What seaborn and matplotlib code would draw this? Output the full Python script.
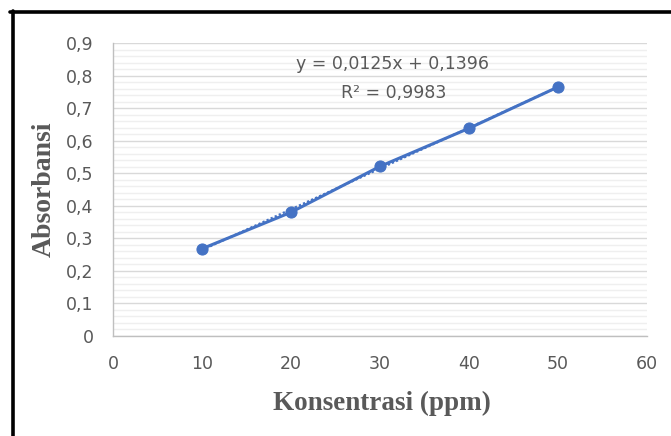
import numpy as np
import pandas as pd
import matplotlib
matplotlib.use("Agg")
import matplotlib.pyplot as plt
from matplotlib.lines import Line2D
from matplotlib.ticker import MultipleLocator
import seaborn as sns

# data
konsentrasi = [10, 20, 30, 40, 50]
absorbansi = [0.268, 0.380, 0.521, 0.638, 0.765]
x_ticks = [0, 10, 20, 30, 40, 50, 60]
y_ticks = [0.0, 0.1, 0.2, 0.3, 0.4, 0.5, 0.6, 0.7, 0.8, 0.9]
y_tick_labels = ["0", "0,1", "0,2", "0,3", "0,4", "0,5", "0,6", "0,7", "0,8", "0,9"]
equation = "y = 0,0125x + 0,1396"
r_squared = "R² = 0,9983"
x_label = "Konsentrasi (ppm)"
y_label = "Absorbansi"

df = pd.DataFrame({"x": konsentrasi, "y": absorbansi})

sns.set_style("white")
plt.rcParams["font.family"] = ["DejaVu Sans"]

fig = plt.figure(figsize=(6.71, 4.36), dpi=100)
ax = fig.add_axes([113 / 671, 1 - 336 / 436, (647 - 113) / 671, (336 - 43) / 436])

blue = "#4472C4"
grid_major = "#d9d9d9"
grid_minor = "#efefef"
text_col = "#595959"

# trendline (dotted)
coef = np.polyfit(konsentrasi, absorbansi, 1)
xt = np.array([min(konsentrasi), max(konsentrasi)])
ax.plot(xt, np.polyval(coef, xt), color=blue, lw=1.6, ls=(0, (1, 1)), zorder=2)

sns.lineplot(data=df, x="x", y="y", ax=ax, color=blue, lw=2.2,
             marker="o", markersize=8, markeredgecolor=blue, zorder=3)

ax.set_xlim(0, 60)
ax.set_ylim(0, 0.9)
ax.set_xticks(x_ticks)
ax.set_yticks(y_ticks)
ax.set_yticklabels(y_tick_labels)
ax.yaxis.set_minor_locator(MultipleLocator(0.02))
ax.grid(which="major", axis="y", color=grid_major, lw=1.0)
ax.grid(which="minor", axis="y", color=grid_minor, lw=1.0)
ax.grid(which="major", axis="x", visible=False)
ax.set_axisbelow(True)

for s in ["top", "right"]:
    ax.spines[s].set_visible(False)
for s in ["left", "bottom"]:
    ax.spines[s].set_color("#bfbfbf")
    ax.spines[s].set_linewidth(1.0)

ax.tick_params(axis="both", which="major", direction="out", length=4.5, width=1,
               color="#bfbfbf", labelcolor=text_col, labelsize=12.5, pad=9.5)
ax.tick_params(axis="y", which="minor", length=0)

ax.set_xlabel("")
ax.set_ylabel("")

fig.text(382 / 671, 1 - 403 / 436, x_label, ha="center", va="center",
         fontsize=19.5, fontweight="bold", family="Liberation Serif", color=text_col)
fig.text(44 / 671, 1 - 189 / 436, y_label, ha="center", va="center", rotation=90,
         fontsize=20, fontweight="bold", family="Liberation Serif", color=text_col)

fig.text(393 / 671, 1 - 64 / 436, equation, ha="center", va="center",
         fontsize=12.5, color=text_col)
fig.text(394 / 671, 1 - 93 / 436, r_squared, ha="center", va="center",
         fontsize=12.5, color=text_col)

# outer border (top and left)
fig.add_artist(Line2D([10 / 671, 1.0], [1 - 12.5 / 436, 1 - 12.5 / 436],
                      transform=fig.transFigure, color="black", lw=2.6))
fig.add_artist(Line2D([12.5 / 671, 12.5 / 671], [1 - 11 / 436, 0.0],
                      transform=fig.transFigure, color="black", lw=2.6))

fig.savefig("out.png", dpi=100)
